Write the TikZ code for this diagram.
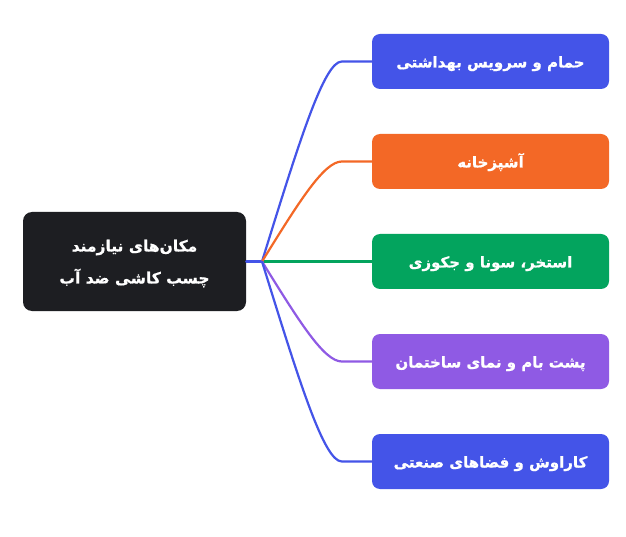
\documentclass[tikz,border=0pt]{standalone}
\usepackage{fontspec}
\newfontfamily\arabicfont[Script=Arabic, BoldFont={DejaVu Sans Bold}, BoldFeatures={FakeBold=0.8}]{DejaVu Sans}
\TeXXeTstate=1
\usetikzlibrary{calc}
\definecolor{cblue}{HTML}{4454E8}
\definecolor{corange}{HTML}{F36826}
\definecolor{cgreen}{HTML}{03A45E}
\definecolor{cpurple}{HTML}{8F5AE4}
\definecolor{cdark}{HTML}{1D1E22}
\newcommand{\rtltext}[1]{\raisebox{-6pt}[0pt][0pt]{\beginR #1\endR}}
\tikzset{
  x=1pt,y=1pt,
  leaf/.style={rounded corners=8pt, minimum width=237pt, minimum height=55pt, inner sep=0pt,
    text=white, font=\arabicfont\bfseries\fontsize{15}{18}\selectfont},
  root/.style={rounded corners=9pt, fill=cdark, minimum width=223pt, minimum height=99pt, inner sep=0pt,
    text=white, align=center, font=\arabicfont\bfseries\fontsize{15.5}{32}\selectfont},
  link/.style={line width=2.2pt, line cap=round}
}
\begin{document}
\begin{tikzpicture}
\useasboundingbox[fill=white] (0,0) rectangle (626,536);
\node[root] (c) at (134.5,274.5) {\rtltext{مکان‌های نیازمند}\\\rtltext{چسب کاشی ضد آب}};
\node[leaf, fill=cblue] (n1) at (490.5,474.5) {\rtltext{حمام و سرویس بهداشتی}};
\node[leaf, fill=corange] (n2) at (490.5,374.5) {\rtltext{آشپزخانه}};
\node[leaf, fill=cgreen] (n3) at (490.5,274.5) {\rtltext{استخر، سونا و جکوزی}};
\node[leaf, fill=cpurple] (n4) at (490.5,174.5) {\rtltext{پشت بام و نمای ساختمان}};
\node[leaf, fill=cblue] (n5) at (490.5,74.5) {\rtltext{کاراوش و فضاهای صنعتی}};
\coordinate (j) at (262,274.5);
\foreach \i in {1,2,4,5}{
  \coordinate (L\i) at ($(j |- n\i.west)+(62,0)$);
  \coordinate (k\i) at ($(n\i.west)+(-30,0)$);
  \coordinate (p\i) at ($(j)!0.6!(L\i)$);
}
\draw[link, cblue] (c.east) -- (j);
\draw[link, cgreen] (j) -- (n3.west);
\draw[link, cblue] (j) .. controls (p1) and (L1) .. (k1) -- (n1.west);
\draw[link, corange] (j) .. controls (p2) and (L2) .. (k2) -- (n2.west);
\draw[link, cpurple] (j) .. controls (p4) and (L4) .. (k4) -- (n4.west);
\draw[link, cblue] (j) .. controls (p5) and (L5) .. (k5) -- (n5.west);
\end{tikzpicture}
\end{document}
